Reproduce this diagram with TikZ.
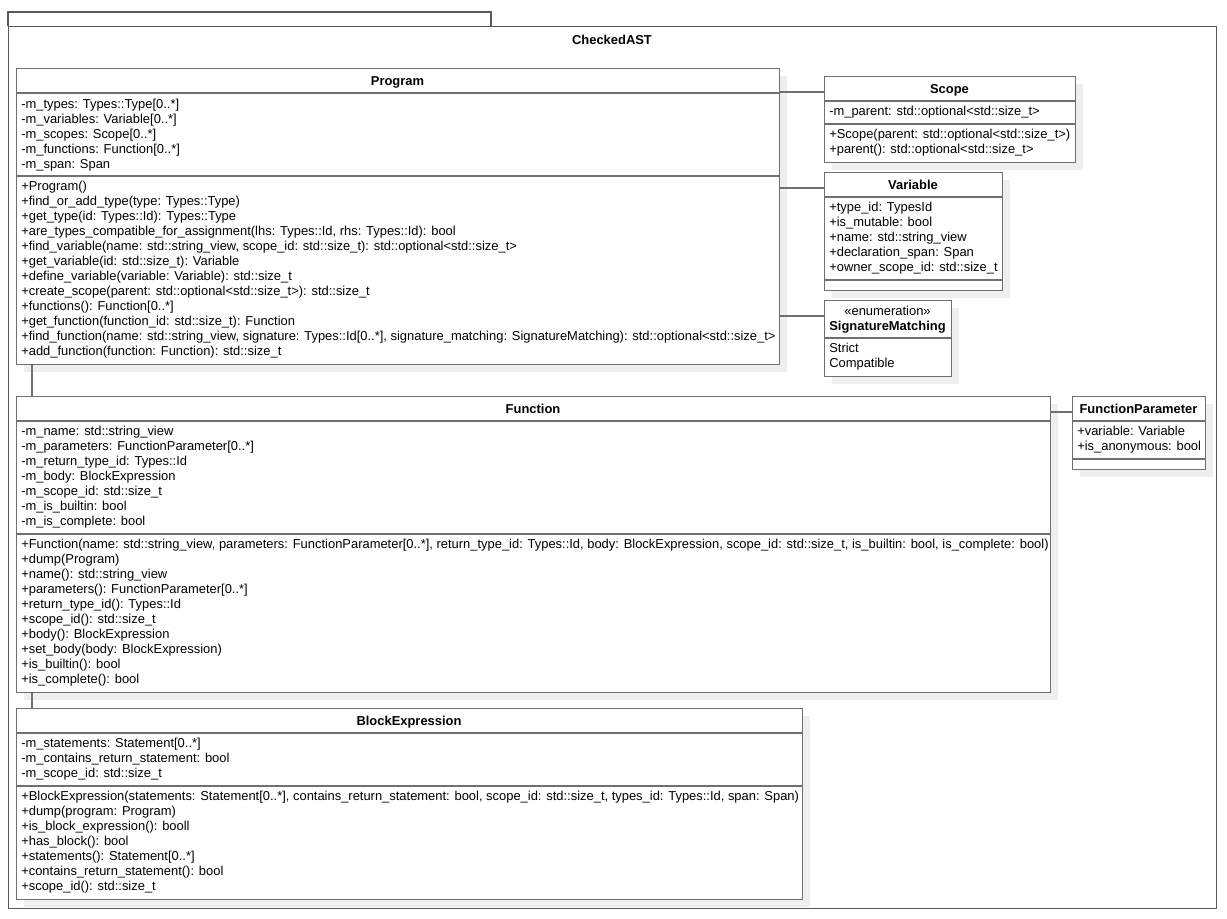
\documentclass[tikz,border=0pt]{standalone}
\usepackage{fontspec}
\setmainfont{Liberation Sans}
\usepackage{xcolor}
\usepackage{tikz}
\usetikzlibrary{shadows}

\definecolor{umlgray}{HTML}{707070}
\definecolor{pkggray}{HTML}{595959}
\definecolor{shadowgray}{HTML}{EFEFEF}

\def \px {0.75pt}

\begin{document}
\begin{tikzpicture}[x=0.75pt, y=-0.75pt,
	classbox/.style={draw=umlgray, line width=1.1pt, fill=white, anchor=north west, inner sep=0pt,
		drop shadow={shadow xshift=5.25pt, shadow yshift=-5.25pt, fill=shadowgray, opacity=1}},
	title/.style={font=\bfseries\fontsize{9.7}{11.25}\selectfont, inner sep=0pt, anchor=base},
	members/.style={font=\fontsize{9.7}{11.25}\selectfont, align=left, inner sep=0pt, anchor=base west},
	sep/.style={draw=umlgray, line width=1.1pt},
	link/.style={draw=umlgray, line width=1.1pt}]

	\useasboundingbox (0,0) rectangle (1227,918);

	% package
	\draw[draw=pkggray, line width=1.1pt] (8,26)--(8,12)--(491,12)--(491,26);
	\node[draw=pkggray, line width=1.1pt, anchor=north west, inner sep=0pt, minimum width=1208*\px, minimum height=882*\px] (checkedast) at (8,26) {};
	\node[title] (checkedast-title) at (612,44) {CheckedAST};

	% Program
	\node[classbox, minimum width=763*\px, minimum height=296*\px] (program) at (16,68) {};
	\node[title] (program-title) at (397.5,85) {Program};
	\draw[sep] (16,93) -- (779,93);
	\node[members] (program-attrs) at (21,168) {-m\_types: Types::Type[0..*]\\-m\_variables: Variable[0..*]\\-m\_scopes: Scope[0..*]\\-m\_functions: Function[0..*]\\-m\_span: Span};
	\draw[sep] (16,176) -- (779,176);
	\node[members] (program-ops) at (21,355.5) {+Program()\\+find\_or\_add\_type(type: Types::Type)\\+get\_type(id: Types::Id): Types::Type\\+are\_types\_compatible\_for\_assignment(lhs: Types::Id, rhs: Types::Id): bool\\+find\_variable(name: std::string\_view, scope\_id: std::size\_t): std::optional<std::size\_t>\\+get\_variable(id: std::size\_t): Variable\\+define\_variable(variable: Variable): std::size\_t\\+create\_scope(parent: std::optional<std::size\_t>): std::size\_t\\+functions(): Function[0..*]\\+get\_function(function\_id: std::size\_t): Function\\+find\_function(name: std::string\_view, signature: Types::Id[0..*], signature\_matching: SignatureMatching): std::optional<std::size\_t>\\+add\_function(function: Function): std::size\_t};

	% Scope
	\node[classbox, minimum width=251*\px, minimum height=86*\px] (scope) at (824,76) {};
	\node[title] (scope-title) at (949.5,93) {Scope};
	\draw[sep] (824,101) -- (1075,101);
	\node[members] (scope-attrs) at (829,115.5) {-m\_parent: std::optional<std::size\_t>};
	\draw[sep] (824,124) -- (1075,124);
	\node[members] (scope-ops) at (829,153.5) {+Scope(parent: std::optional<std::size\_t>)\\+parent(): std::optional<std::size\_t>};

	% Variable
	\node[classbox, minimum width=178*\px, minimum height=118*\px] (variable) at (824,172) {};
	\node[title] (variable-title) at (913,189) {Variable};
	\draw[sep] (824,197) -- (1002,197);
	\node[members] (variable-attrs) at (829,271.5) {+type\_id: TypesId\\+is\_mutable: bool\\+name: std::string\_view\\+declaration\_span: Span\\+owner\_scope\_id: std::size\_t};
	\draw[sep] (824,280) -- (1002,280);

	% SignatureMatching
	\node[classbox, minimum width=127*\px, minimum height=76*\px] (signaturematching) at (824,300) {};
	\node[members, anchor=base] (signaturematching-stereo) at (887.5,315) {«enumeration»};
	\node[title] (signaturematching-title) at (887.5,330) {SignatureMatching};
	\draw[sep] (824,338) -- (951,338);
	\node[members] (signaturematching-values) at (829,367.5) {Strict\\Compatible};

	% Function
	\node[classbox, minimum width=1034*\px, minimum height=296*\px] (function) at (16,396) {};
	\node[title] (function-title) at (533,413) {Function};
	\draw[sep] (16,421) -- (1050,421);
	\node[members] (function-attrs) at (21,525.5) {-m\_name: std::string\_view\\-m\_parameters: FunctionParameter[0..*]\\-m\_return\_type\_id: Types::Id\\-m\_body: BlockExpression\\-m\_scope\_id: std::size\_t\\-m\_is\_builtin: bool\\-m\_is\_complete: bool};
	\draw[sep] (16,534) -- (1050,534);
	\node[members] (function-ops) at (21,683.5) {+Function(name: std::string\_view, parameters: FunctionParameter[0..*], return\_type\_id: Types::Id, body: BlockExpression, scope\_id: std::size\_t, is\_builtin: bool, is\_complete: bool)\\+dump(Program)\\+name(): std::string\_view\\+parameters(): FunctionParameter[0..*]\\+return\_type\_id(): Types::Id\\+scope\_id(): std::size\_t\\+body(): BlockExpression\\+set\_body(body: BlockExpression)\\+is\_builtin(): bool\\+is\_complete(): bool};

	% FunctionParameter
	\node[classbox, minimum width=133*\px, minimum height=73*\px] (functionparameter) at (1072,396) {};
	\node[title] (functionparameter-title) at (1138.5,413) {FunctionParameter};
	\draw[sep] (1072,421) -- (1205,421);
	\node[members] (functionparameter-attrs) at (1077,450.5) {+variable: Variable\\+is\_anonymous: bool};
	\draw[sep] (1072,459) -- (1205,459);

	% BlockExpression
	\node[classbox, minimum width=786*\px, minimum height=191*\px] (blockexpression) at (16,708) {};
	\node[title] (blockexpression-title) at (409,725) {BlockExpression};
	\draw[sep] (16,733) -- (802,733);
	\node[members] (blockexpression-attrs) at (21,777.5) {-m\_statements: Statement[0..*]\\-m\_contains\_return\_statement: bool\\-m\_scope\_id: std::size\_t};
	\draw[sep] (16,786) -- (802,786);
	\node[members] (blockexpression-ops) at (21,890.5) {+BlockExpression(statements: Statement[0..*], contains\_return\_statement: bool, scope\_id: std::size\_t, types\_id: Types::Id, span: Span)\\+dump(program: Program)\\+is\_block\_expression(): booll\\+has\_block(): bool\\+statements(): Statement[0..*]\\+contains\_return\_statement(): bool\\+scope\_id(): std::size\_t};

	% links
	\draw[link] ([yshift=-12pt]scope.north west) -- ([yshift=-12pt]scope.north west -| program.east);
	\draw[link] ([yshift=-12pt]variable.north west) -- ([yshift=-12pt]variable.north west -| program.east);
	\draw[link] ([yshift=-12pt]signaturematching.north west) -- ([yshift=-12pt]signaturematching.north west -| program.east);
	\draw[link] ([yshift=-12pt]functionparameter.north west) -- ([yshift=-12pt]functionparameter.north west -| function.east);
	\draw[link] ([xshift=12pt]program.south west) -- ([xshift=12pt]function.north west);
	\draw[link] ([xshift=12pt]function.south west) -- ([xshift=12pt]blockexpression.north west);

\end{tikzpicture}
\end{document}
